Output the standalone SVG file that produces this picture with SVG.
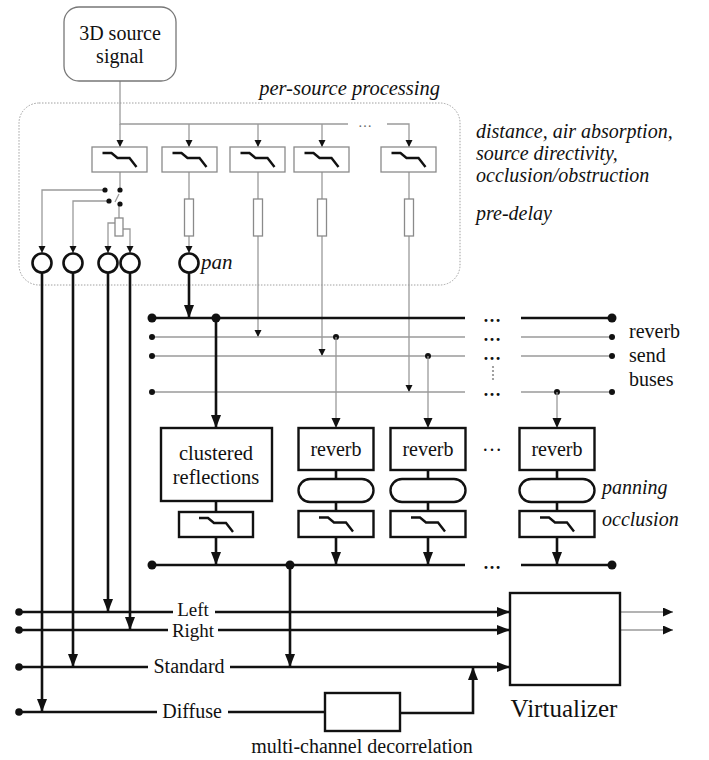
<svg xmlns="http://www.w3.org/2000/svg" width="709" height="760" viewBox="0 0 709 760" font-family="'Liberation Serif', 'Times New Roman', serif">
  <style>
    text { font-family: 'Liberation Serif', 'Times New Roman', serif; fill: #111; }
    .lbl { font-size: 20px; }
    .ch { font-size: 20px; }
    .mid { text-anchor: middle; }
    .it { font-style: italic; font-size: 20px; }
    .thin { fill: none; stroke: #9a9a9a; stroke-width: 1.3; }
    .thick { fill: none; stroke: #111; stroke-width: 2.6; }
    .gbox { fill: #fff; stroke: #8a8a8a; stroke-width: 1.3; }
    .kbox { fill: #fff; stroke: #111; stroke-width: 2.4; }
    .icon { fill: none; stroke: #111; stroke-width: 2.4; stroke-linejoin: miter; }
    .pan { fill: #fff; stroke: #111; stroke-width: 2.6; }
    .dot { fill: #111; }
    .gdot { fill: #8a8a8a; }
  </style>
  <defs>
    <marker id="ahThick" markerUnits="userSpaceOnUse" markerWidth="14" markerHeight="12" refX="13" refY="5" orient="auto">
      <path d="M0,0 L13,5 L0,10 z" fill="#111"/>
    </marker>
    <marker id="ahMid" markerUnits="userSpaceOnUse" markerWidth="11" markerHeight="10" refX="10" refY="4.5" orient="auto">
      <path d="M0,0 L10,4.5 L0,9 z" fill="#111"/>
    </marker>
    <marker id="ahSmall" markerUnits="userSpaceOnUse" markerWidth="8" markerHeight="8" refX="7" refY="3.5" orient="auto">
      <path d="M0,0 L7,3.5 L0,7 z" fill="#111"/>
    </marker>
    <!-- low-pass filter glyph, centred on 0,0 -->
    <path id="lp" class="icon" d="M-17,-6.5 H-8 L-2,-1.5 H10 L17,7.5"/>
  </defs>

  <!-- per-source processing frame -->
  <rect x="19" y="103" width="441" height="182" rx="20" fill="none" stroke="#a0a0a0" stroke-width="1" stroke-dasharray="1.5 1.5"/>
  <text class="it" x="440" y="95" text-anchor="end" style="font-size:20.5px">per-source processing</text>

  <!-- annotation texts -->
  <text class="it" x="476" y="138">distance, air absorption,</text>
  <text class="it" x="476" y="160">source directivity,</text>
  <text class="it" x="476" y="182">occlusion/obstruction</text>
  <text class="it" x="476" y="220">pre-delay</text>

  <!-- connectors -->
  <g id="connectors">
    <!-- source fan-out -->
    <path class="thin" d="M120,81 V124 H348"/>
    <path class="thin" d="M387,124 H409 V147" marker-end="url(#ahSmall)"/>
    <text x="365" y="127" class="mid" style="font-size:14px;fill:#666">…</text>
    <path class="thin" d="M120,124 V147" marker-end="url(#ahSmall)"/>
    <path class="thin" d="M189,124 V147" marker-end="url(#ahSmall)"/>
    <path class="thin" d="M258,124 V147" marker-end="url(#ahSmall)"/>
    <path class="thin" d="M322,124 V147" marker-end="url(#ahSmall)"/>

    <!-- filter to switch / pre-delay -->
    <path class="thin" d="M120,172 V190"/>
    <path class="thin" d="M189,172 V199"/>
    <path class="thin" d="M258,172 V199"/>
    <path class="thin" d="M322,172 V199"/>
    <path class="thin" d="M409,172 V199"/>

    <!-- switch -->
    <path class="thin" d="M105,190 H42 V253" marker-end="url(#ahSmall)"/>
    <path class="thin" d="M109,201 H73 V253" marker-end="url(#ahSmall)"/>
    <path class="thin" d="M115,202 L119,194"/>
    <path class="thin" d="M119,204 V218"/>
    <path class="thin" d="M115,223 H108 V253" marker-end="url(#ahSmall)"/>
    <path class="thin" d="M123,229 H130 V253" marker-end="url(#ahSmall)"/>

    <!-- pre-delay outputs -->
    <path class="thin" d="M189,236 V253" marker-end="url(#ahSmall)"/>
    <path class="thin" d="M258,236 V337" marker-end="url(#ahSmall)"/>
    <path class="thin" d="M322,236 V356" marker-end="url(#ahSmall)"/>
    <path class="thin" d="M409,236 V392" marker-end="url(#ahSmall)"/>

    <!-- reverb send buses -->
    <path class="thick" d="M152,318 H465 M521,318 H612"/>
    <path class="thin" d="M152,337 H465 M521,337 H612"/>
    <path class="thin" d="M152,356 H465 M521,356 H612"/>
    <path class="thin" d="M152,392 H465 M521,392 H612"/>
    <circle class="dot" cx="152" cy="318" r="4.5"/>
    <circle class="dot" cx="612" cy="318" r="4.5"/>
    <circle class="dot" cx="152" cy="337" r="3"/>
    <circle class="dot" cx="612" cy="337" r="3"/>
    <circle class="dot" cx="152" cy="356" r="3"/>
    <circle class="dot" cx="612" cy="356" r="3"/>
    <circle class="dot" cx="152" cy="392" r="3"/>
    <circle class="dot" cx="612" cy="392" r="3"/>
    <text x="492" y="322" class="mid" style="font-size:18px;font-weight:bold">…</text>
    <text x="492" y="341" class="mid" style="font-size:18px;font-weight:bold">…</text>
    <text x="492" y="360" class="mid" style="font-size:18px;font-weight:bold">…</text>
    <text x="492" y="396" class="mid" style="font-size:18px;font-weight:bold">…</text>
    <circle class="gdot" cx="493" cy="367" r="1.1"/>
    <circle class="gdot" cx="493" cy="371" r="1.1"/>
    <circle class="gdot" cx="493" cy="375" r="1.1"/>
    <circle class="gdot" cx="493" cy="379" r="1.1"/>

    <!-- pan outputs -->
    <path class="thick" d="M189,273 V318" marker-end="url(#ahThick)"/>
    <path class="thick" d="M42,273 V712" marker-end="url(#ahThick)"/>
    <path class="thick" d="M73,273 V667" marker-end="url(#ahThick)"/>
    <path class="thick" d="M108,273 V612" marker-end="url(#ahThick)"/>
    <path class="thick" d="M130,273 V630" marker-end="url(#ahThick)"/>

    <!-- bus taps to reverb units -->
    <circle class="dot" cx="216" cy="318" r="4.5"/>
    <path class="thick" d="M216,318 V428" marker-end="url(#ahThick)"/>
    <circle class="dot" cx="336" cy="337" r="3"/>
    <path class="thin" d="M336,337 V428" marker-end="url(#ahMid)"/>
    <circle class="dot" cx="428" cy="356" r="3"/>
    <path class="thin" d="M428,356 V428" marker-end="url(#ahMid)"/>
    <circle class="dot" cx="557" cy="392" r="3"/>
    <path class="thin" d="M557,392 V428" marker-end="url(#ahMid)"/>

    <!-- chain links inside reverb columns -->
    <path class="thick" d="M216,501 V512"/>
    <path class="thick" d="M336,470 V479 M336,502 V511"/>
    <path class="thick" d="M428,470 V479 M428,502 V511"/>
    <path class="thick" d="M557,470 V479 M557,502 V511"/>

    <!-- reverb outputs to mix bus -->
    <path class="thick" d="M216,537 V565" marker-end="url(#ahThick)"/>
    <path class="thick" d="M336,537 V565" marker-end="url(#ahThick)"/>
    <path class="thick" d="M428,537 V565" marker-end="url(#ahThick)"/>
    <path class="thick" d="M557,537 V565" marker-end="url(#ahThick)"/>
    <path class="thick" d="M152,565 H465 M521,565 H612"/>
    <circle class="dot" cx="152" cy="565" r="4.5"/>
    <circle class="dot" cx="612" cy="565" r="4.5"/>
    <circle class="dot" cx="290" cy="565" r="4.5"/>
    <text x="492" y="569" class="mid" style="font-size:18px;font-weight:bold">…</text>
    <path class="thick" d="M290,565 V667" marker-end="url(#ahThick)"/>

    <!-- output channel buses -->
    <path class="thick" d="M19,612 H173 M215,612 H510" marker-end="url(#ahThick)"/>
    <path class="thick" d="M19,630 H168 M218,630 H510" marker-end="url(#ahThick)"/>
    <path class="thick" d="M19,667 H148 M230,667 H510" marker-end="url(#ahThick)"/>
    <path class="thick" d="M19,712 H157 M228,712 H325"/>
    <path class="thick" d="M400,713 H473 V667" marker-end="url(#ahThick)"/>
    <circle class="dot" cx="19" cy="612" r="3.8"/>
    <circle class="dot" cx="19" cy="630" r="3.8"/>
    <circle class="dot" cx="19" cy="667" r="3.8"/>
    <circle class="dot" cx="19" cy="712" r="3.8"/>

    <!-- virtualizer outputs -->
    <path class="thin" d="M620,612 H673" marker-end="url(#ahMid)"/>
    <path class="thin" d="M620,630 H673" marker-end="url(#ahMid)"/>
  </g>

  <!-- source -->
  <g id="source">
    <rect x="64" y="7" width="112" height="74" rx="15" fill="#fff" stroke="#777" stroke-width="1.3"/>
    <text class="lbl mid" x="120" y="40">3D source</text>
    <text class="lbl mid" x="120" y="63">signal</text>
  </g>

  <!-- per-source filters -->
  <g id="filter1"><rect class="gbox" x="92" y="147" width="55" height="25"/><use href="#lp" x="119.5" y="159.5"/></g>
  <g id="filter2"><rect class="gbox" x="162" y="147" width="55" height="25"/><use href="#lp" x="189.5" y="159.5"/></g>
  <g id="filter3"><rect class="gbox" x="230" y="147" width="55" height="25"/><use href="#lp" x="257.5" y="159.5"/></g>
  <g id="filter4"><rect class="gbox" x="294" y="147" width="55" height="25"/><use href="#lp" x="321.5" y="159.5"/></g>
  <g id="filter5"><rect class="gbox" x="381" y="147" width="55" height="25"/><use href="#lp" x="408.5" y="159.5"/></g>

  <!-- switch contacts -->
  <g id="switch">
    <circle class="dot" cx="105" cy="190" r="2.6"/>
    <circle class="dot" cx="120" cy="190" r="2.6"/>
    <circle class="dot" cx="109" cy="201" r="2.6"/>
    <circle class="dot" cx="120" cy="204" r="2.6"/>
    <rect class="gbox" x="115" y="218" width="8" height="18"/>
  </g>

  <!-- pre-delays -->
  <g id="delay2"><rect class="gbox" x="184.5" y="199" width="9" height="37"/></g>
  <g id="delay3"><rect class="gbox" x="253.5" y="199" width="9" height="37"/></g>
  <g id="delay4"><rect class="gbox" x="317.5" y="199" width="9" height="37"/></g>
  <g id="delay5"><rect class="gbox" x="404.5" y="199" width="9" height="37"/></g>

  <!-- panners -->
  <g id="panL1"><circle class="pan" cx="42" cy="263" r="9.5"/></g>
  <g id="panL2"><circle class="pan" cx="73" cy="263" r="9.5"/></g>
  <g id="panL3"><circle class="pan" cx="108" cy="263" r="9.5"/></g>
  <g id="panL4"><circle class="pan" cx="130" cy="263" r="9.5"/></g>
  <g id="panMain"><circle class="pan" cx="189" cy="263" r="9.5"/><text class="it" x="201" y="269" style="font-size:21px">pan</text></g>

  <!-- bus labels -->
  <text class="lbl" x="629" y="338">reverb</text>
  <text class="lbl" x="629" y="362">send</text>
  <text class="lbl" x="629" y="386">buses</text>

  <!-- clustered reflections -->
  <g id="clustered">
    <rect class="kbox" x="161" y="428" width="111" height="73"/>
    <text class="lbl mid" x="216" y="460" style="font-size:20.5px">clustered</text>
    <text class="lbl mid" x="216" y="484" style="font-size:20.5px">reflections</text>
    <rect class="kbox" x="179" y="512" width="74" height="25"/>
    <use href="#lp" x="216" y="524.5"/>
  </g>

  <!-- reverb units -->
  <g id="reverb1">
    <rect class="kbox" x="298.5" y="428" width="75" height="42"/>
    <text class="lbl mid" x="336" y="456">reverb</text>
    <rect class="kbox" x="298.5" y="479" width="75" height="23" rx="11.5"/>
    <rect class="kbox" x="298.5" y="511" width="75" height="26"/>
    <use href="#lp" x="336" y="524"/>
  </g>
  <g id="reverb2">
    <rect class="kbox" x="390.5" y="428" width="75" height="42"/>
    <text class="lbl mid" x="428" y="456">reverb</text>
    <rect class="kbox" x="390.5" y="479" width="75" height="23" rx="11.5"/>
    <rect class="kbox" x="390.5" y="511" width="75" height="26"/>
    <use href="#lp" x="428" y="524"/>
  </g>
  <text x="492" y="451" class="mid" style="font-size:20px">…</text>
  <g id="reverb3">
    <rect class="kbox" x="519.5" y="428" width="75" height="42"/>
    <text class="lbl mid" x="557" y="456">reverb</text>
    <rect class="kbox" x="519.5" y="479" width="75" height="23" rx="11.5"/>
    <rect class="kbox" x="519.5" y="511" width="75" height="26"/>
    <use href="#lp" x="557" y="524"/>
    <text class="it" x="602" y="494">panning</text>
    <text class="it" x="602" y="526">occlusion</text>
  </g>

  <!-- channel labels -->
  <text class="ch mid" x="193" y="616" style="font-size:19px">Left</text>
  <text class="ch mid" x="193" y="637" style="font-size:19px">Right</text>
  <text class="ch mid" x="189" y="673">Standard</text>
  <text class="ch mid" x="192" y="718">Diffuse</text>

  <!-- decorrelation -->
  <g id="decorrelation">
    <rect class="kbox" x="325" y="693" width="75" height="38"/>
    <text class="mid" x="362" y="753" style="font-size:20px">multi-channel decorrelation</text>
  </g>

  <!-- virtualizer -->
  <g id="virtualizer">
    <rect class="kbox" x="510" y="593" width="110" height="92"/>
    <text class="mid" x="564" y="717" style="font-size:25px">Virtualizer</text>
  </g>
</svg>
